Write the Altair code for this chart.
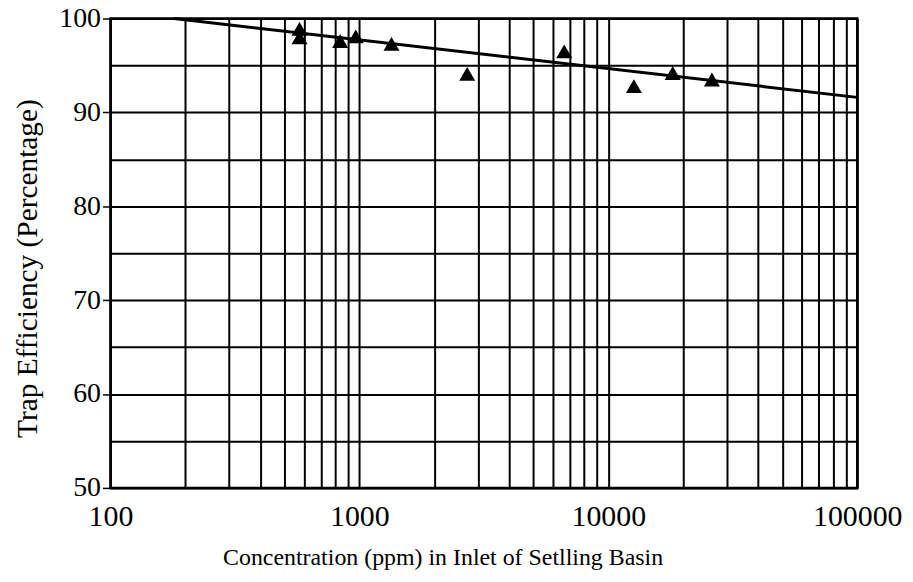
import altair as alt
import pandas as pd

# Measured data (triangles)
conc = [575, 575, 837, 967, 1346, 2711, 6650, 12670, 18140, 26060]
eff = [98.9, 98.0, 97.6, 98.1, 97.3, 94.1, 96.5, 92.8, 94.2, 93.5]

# Fitted trend line endpoints
line_conc = [180, 100000]
line_eff = [100.0, 91.6]

# Axis tick / grid values
x_grid = [100, 200, 300, 400, 500, 600, 700, 800, 900,
          1000, 2000, 3000, 4000, 5000, 6000, 7000, 8000, 9000,
          10000, 20000, 30000, 40000, 50000, 60000, 70000, 80000, 90000,
          100000]
y_grid = [50, 55, 60, 65, 70, 75, 80, 85, 90, 95, 100]

FONT = "Liberation Serif"

df_pts = pd.DataFrame({"conc": conc, "eff": eff})
df_line = pd.DataFrame({"conc": line_conc, "eff": line_eff})

x_enc = alt.X(
    "conc:Q",
    scale=alt.Scale(type="log", domain=[100, 100000], nice=False),
    axis=alt.Axis(
        values=x_grid,
        format="d",
        labelExpr="indexof(['100','1000','10000','100000'], datum.label) >= 0 ? datum.label : ''",
        labelOverlap=False,
        labelFlush=False,
        ticks=False,
        tickSize=0,
        domain=False,
        grid=True,
        gridColor="black",
        gridWidth=2,
        gridOpacity=1,
        labelFont=FONT,
        labelFontSize=30,
        labelColor="black",
        labelPadding=14,
        title="Concentration (ppm) in Inlet of Setlling Basin",
        titleFont=FONT,
        titleFontSize=24,
        titleFontWeight="normal",
        titleColor="black",
        titleX=334,
        titleY=70,
        titleBaseline="middle",
        titleAlign="center",
    ),
)

y_enc = alt.Y(
    "eff:Q",
    scale=alt.Scale(domain=[50, 100], nice=False, zero=False),
    axis=alt.Axis(
        values=y_grid,
        labelExpr="datum.value % 10 === 0 ? datum.label : ''",
        labelOverlap=False,
        labelFlush=False,
        tickOpacity={"condition": {"test": "datum.value % 10 === 0", "value": 1}, "value": 0},
        tickSize=8,
        tickColor="black",
        tickWidth=1.5,
        domain=False,
        grid=True,
        gridColor="black",
        gridWidth=2,
        gridOpacity=1,
        labelFont=FONT,
        labelFontSize=28,
        labelColor="black",
        labelPadding=2,
        title="Trap Efficiency (Percentage)",
        titleFont=FONT,
        titleFontSize=29.5,
        titleFontWeight="normal",
        titleColor="black",
        titleX=-83,
        titleY=251,
        titleBaseline="middle",
        titleAlign="center",
    ),
)

line = alt.Chart(df_line).mark_line(color="black", strokeWidth=3).encode(x=x_enc, y=y_enc)
pts = alt.Chart(df_pts).mark_point(
    shape="triangle-up", filled=True, color="black", size=260, opacity=1
).encode(x="conc:Q", y="eff:Q")

chart = (
    alt.layer(line, pts)
    .properties(
        width=751,
        height=472,
        autosize="none",
        padding={"left": 103, "top": 9, "right": 48, "bottom": 84},
        background="white",
    )
    .configure_view(stroke="black", strokeWidth=2.5)
)

chart.save("out.html", embed_options={"renderer": "svg", "actions": False})
